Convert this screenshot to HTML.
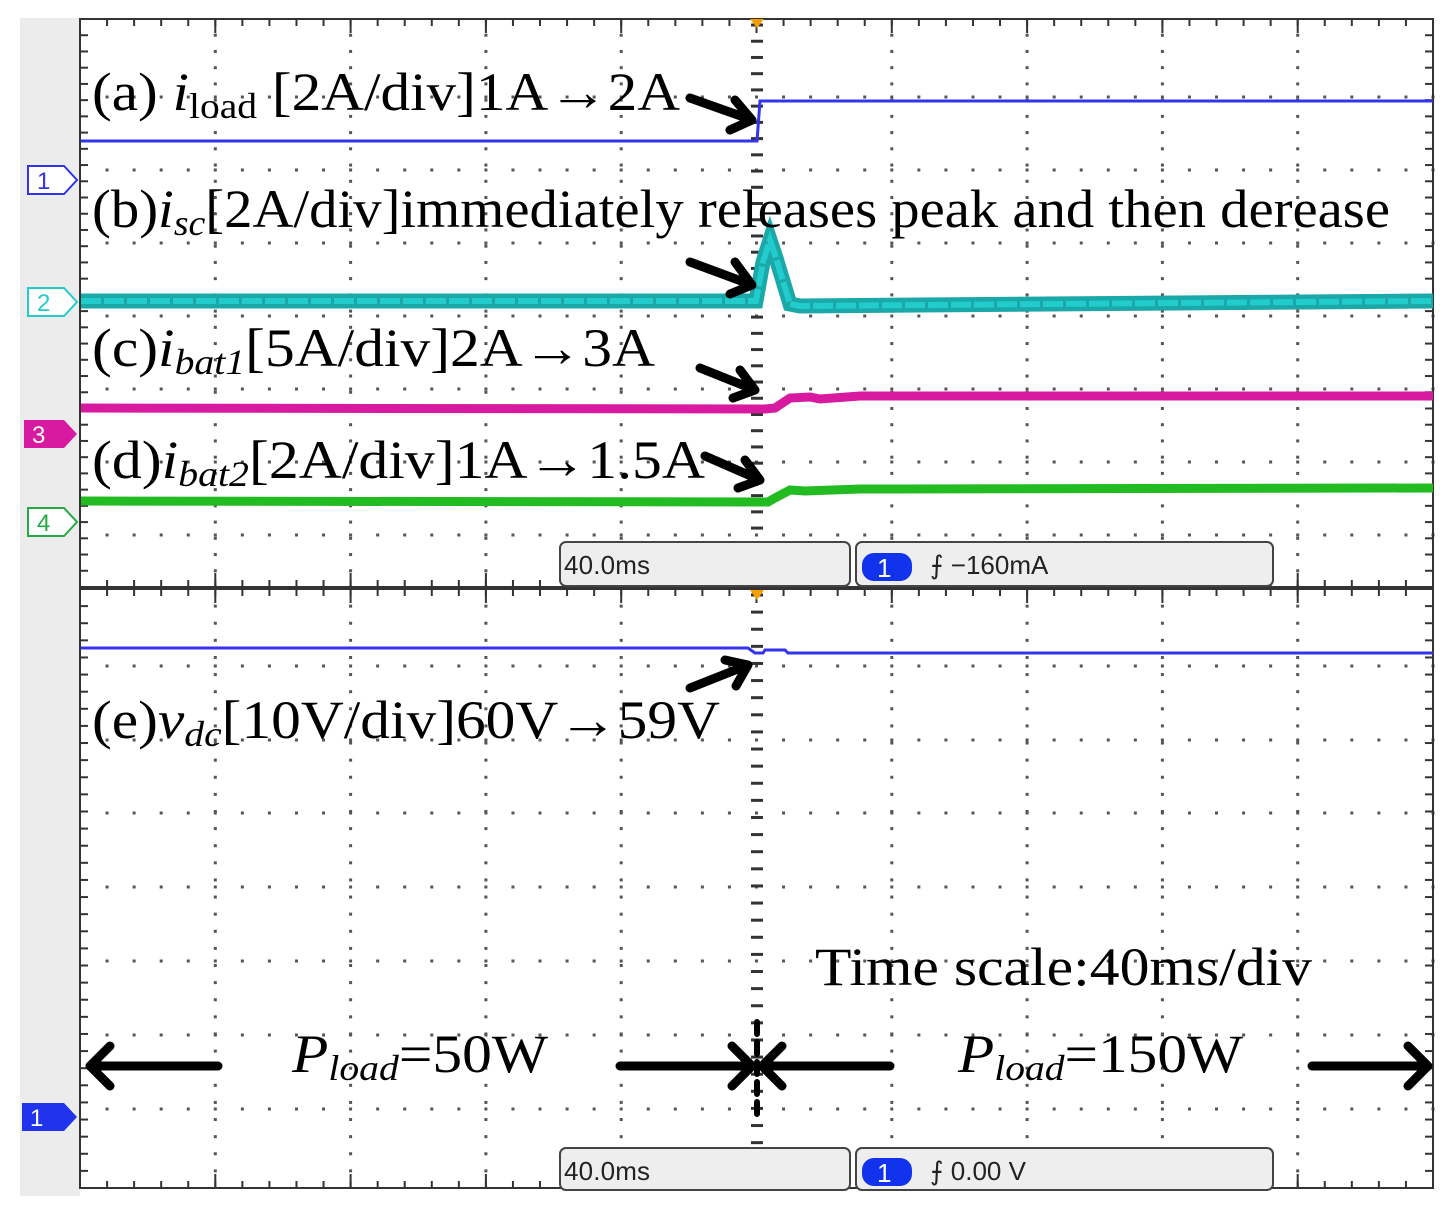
<!DOCTYPE html>
<html><head><meta charset="utf-8"><style>
html,body{margin:0;padding:0;background:#fff;}
svg{display:block;}
.t{font-family:"Liberation Serif",serif;fill:#000;}
.m{font-family:"Liberation Sans",sans-serif;}
</style></head><body>
<svg id="s" width="1450" height="1211" viewBox="0 0 1450 1211" xmlns="http://www.w3.org/2000/svg">
<rect x="20" y="18" width="60" height="1178" fill="#ececec"/>
<rect x="80" y="18" width="1354" height="1172" fill="#fff"/>
<g id="grid"></g>
<rect x="80" y="19" width="1353" height="568" fill="none" stroke="#333" stroke-width="2"/>
<rect x="80" y="589" width="1353" height="599" fill="none" stroke="#333" stroke-width="2"/>
<polygon points="750,19 764,19 757,28" fill="#f5a000"/>
<polygon points="750,590 764,590 757,600" fill="#f5a000"/>
<polyline points="81,141 757,141 760,101 1433,101" fill="none" stroke="#3333ee" stroke-width="3"/>
<polyline points="81,301 756,301 763,262 770,240 776,258 790,304 800,306 1433,301" fill="none" stroke="#1aa8a8" stroke-width="15"/>
<polyline points="81,301 756,301 763,262 770,240 776,258 790,304 800,306 1433,301" fill="none" stroke="#22cccc" stroke-width="6" stroke-dasharray="20 3"/>
<polyline points="81,408 765,409 775,408 790,398 810,397 820,399 860,396 1433,396" fill="none" stroke="#d81aa0" stroke-width="9"/>
<polyline points="81,501 768,502 775,498 790,490 805,491 860,489 1433,488" fill="none" stroke="#22bb22" stroke-width="9"/>
<polyline points="81,648 748,648 755,653 763,653 765,650 785,650 788,653 1433,653" fill="none" stroke="#3333ee" stroke-width="3"/>
<g class="m" font-size="24">
<path d="M28,166 H64 L77,180 L64,194 H28 Z" fill="#fff" stroke="#3333ee" stroke-width="2"/><text x="37" y="189" fill="#3333ee">1</text>
<path d="M28,288 H64 L77,302 L64,316 H28 Z" fill="#fff" stroke="#22cccc" stroke-width="2"/><text x="37" y="311" fill="#22cccc">2</text>
<path d="M24,420 H64 L77,434 L64,448 H24 Z" fill="#d81aa0"/><text x="32" y="443" fill="#fff">3</text>
<path d="M28,508 H64 L77,522 L64,536 H28 Z" fill="#fff" stroke="#22aa44" stroke-width="2"/><text x="37" y="531" fill="#22aa44">4</text>
<path d="M22,1103 H64 L77,1117 L64,1131 H22 Z" fill="#2233ee"/><text x="30" y="1126" fill="#fff">1</text>
</g>
<g class="m" font-size="26">
<rect x="560" y="542" width="290" height="44" rx="6" fill="#eee" stroke="#444" stroke-width="2"/>
<text x="564" y="574" fill="#222" textLength="86">40.0ms</text>
<rect x="856" y="542" width="417" height="44" rx="6" fill="#eee" stroke="#444" stroke-width="2"/>
<rect x="862" y="553" width="50" height="28" rx="12" fill="#1133ee"/><text x="877" y="577" fill="#fff">1</text>
<text x="930" y="574" fill="#222">⨍ −160mA</text>
<rect x="560" y="1148" width="290" height="42" rx="6" fill="#eee" stroke="#444" stroke-width="2"/>
<text x="564" y="1180" fill="#222" textLength="86">40.0ms</text>
<rect x="856" y="1148" width="417" height="42" rx="6" fill="#eee" stroke="#444" stroke-width="2"/>
<rect x="862" y="1158" width="50" height="28" rx="12" fill="#1133ee"/><text x="877" y="1182" fill="#fff">1</text>
<text x="930" y="1180" fill="#222">⨍ 0.00 V</text>
</g>
<g class="t" font-size="54">
<text x="92" y="110" textLength="588" lengthAdjust="spacingAndGlyphs">(a) <tspan font-style="italic">i</tspan><tspan font-size="36" dy="8">load</tspan><tspan dy="-8"> [2A/div]1A→2A</tspan></text>
<text x="92" y="227" textLength="1298" lengthAdjust="spacingAndGlyphs">(b)<tspan font-style="italic">i</tspan><tspan font-size="36" dy="8" font-style="italic">sc</tspan><tspan dy="-8">[2A/div]immediately releases peak and then derease</tspan></text>
<text x="92" y="366" textLength="563" lengthAdjust="spacingAndGlyphs">(c)<tspan font-style="italic">i</tspan><tspan font-size="36" dy="8" font-style="italic">bat1</tspan><tspan dy="-8">[5A/div]2A→3A</tspan></text>
<text x="92" y="478" textLength="613" lengthAdjust="spacingAndGlyphs">(d)<tspan font-style="italic">i</tspan><tspan font-size="36" dy="8" font-style="italic">bat2</tspan><tspan dy="-8">[2A/div]1A→1.5A</tspan></text>
<text x="92" y="738" textLength="628" lengthAdjust="spacingAndGlyphs">(e)<tspan font-style="italic">v</tspan><tspan font-size="36" dy="8" font-style="italic">dc</tspan><tspan dy="-8">[10V/div]60V→59V</tspan></text>
<text x="815" y="985" textLength="497" lengthAdjust="spacingAndGlyphs">Time scale:40ms/div</text>
<text x="292" y="1072" textLength="256" lengthAdjust="spacingAndGlyphs"><tspan font-style="italic">P</tspan><tspan font-size="36" dy="8" font-style="italic">load</tspan><tspan dy="-8">=50W</tspan></text>
<text x="958" y="1072" textLength="285" lengthAdjust="spacingAndGlyphs"><tspan font-style="italic">P</tspan><tspan font-size="36" dy="8" font-style="italic">load</tspan><tspan dy="-8">=150W</tspan></text>
</g>
<g fill="none" stroke="#000" stroke-width="9" stroke-linecap="round" stroke-linejoin="round">
<path d="M690,98 L752,120 M735,100 L752,120 L730,130"/>
<path d="M690,262 L752,285 M735,262 L752,285 L730,294"/>
<path d="M700,368 L755,390 M740,370 L755,390 L733,398"/>
<path d="M705,456 L760,480 M745,460 L760,480 L738,488"/>
<path d="M690,688 L748,665 M725,660 L748,665 L736,686"/>
<path d="M218,1066 H90 M110,1046 L90,1066 L110,1086"/>
<path d="M620,1066 H752 M732,1046 L752,1066 L732,1086"/>
<path d="M890,1066 H762 M782,1046 L762,1066 L782,1086"/>
<path d="M1312,1066 H1428 M1408,1046 L1428,1066 L1408,1086"/>
<path d="M757,1022 V1115" stroke-dasharray="12 8" stroke-width="6"/>
</g>
</svg>
<script>
(function(){
var g=document.getElementById('grid'),h='';
var L=80,R=1433,dx=135.3;
function dot(x,y){h+='<rect x="'+(x-1.5)+'" y="'+(y-1.5)+'" width="3" height="3" fill="#555"/>';}
function ln(x1,y1,x2,y2,w){h+='<line x1="'+x1+'" y1="'+y1+'" x2="'+x2+'" y2="'+y2+'" stroke="#333" stroke-width="'+(w||2)+'"/>';}
function panel(T,B,rows){
 var dy=(B-T)/rows.length;
 for(var i=1;i<10;i++){var x=L+i*dx; if(i==5)continue; for(var y=T+dy/5;y<B;y+=dy/5)dot(x,y);}
 rows.forEach(function(y){for(var x=L+dx/5;x<R;x+=dx/5)dot(x,y);});
 for(var y=T+6;y<B;y+=dy/5)ln(751,y,763,y,3);
 for(var x=L;x<=R;x+=dx/5){ln(x,T,x,T+7);ln(x,B,x,B-7);}
 for(var i=0;i<=10;i++){ln(L+i*dx,T,L+i*dx,T+14);ln(L+i*dx,B,L+i*dx,B-14);}
 for(var y=T;y<=B;y+=dy/5){ln(L,y,L+8,y);ln(R,y,R-8,y);}
}
panel(19,587,[97,170,243,316,389,462,535]);
panel(589,1188,[666,740,813,887,961,1035,1109]);
g.innerHTML=h;
})();
</script>
</body></html>
